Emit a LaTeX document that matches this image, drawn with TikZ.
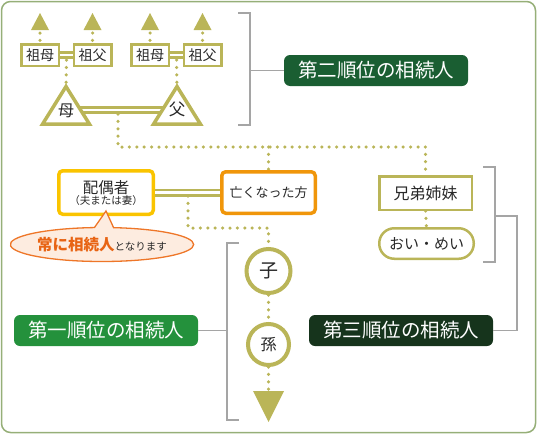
\documentclass[tikz,border=0pt]{standalone}
\usepackage{fontspec}
\setmainfont{Noto Sans CJK JP}
\usetikzlibrary{shapes.callouts,shapes.geometric}
\definecolor{oliv}{RGB}{186,181,88}
\definecolor{framec}{RGB}{150,175,120}
\definecolor{brgray}{RGB}{165,165,165}
\definecolor{labA}{RGB}{36,145,60}
\definecolor{labB}{RGB}{26,94,50}
\definecolor{labC}{RGB}{22,52,28}
\definecolor{spouseb}{RGB}{250,196,0}
\definecolor{deadb}{RGB}{240,150,10}
\definecolor{callb}{RGB}{238,118,40}
\definecolor{callf}{RGB}{253,236,224}
\definecolor{callt}{RGB}{232,100,20}
\definecolor{txt}{RGB}{40,40,40}
\pgfdeclarelayer{bg}
\pgfsetlayers{bg,main}
\begin{document}
\begin{tikzpicture}[x=1pt,y=-1pt,
  dots/.style={draw=oliv, line width=3.5pt, line cap=round, dash pattern=on 0pt off 7.4pt},
  dbl/.style={draw=oliv, double=white, double distance=2.8pt, line width=2.6pt},
  brk/.style={draw=brgray, line width=1.4pt},
  gbox/.style={draw=oliv, line width=2.5pt, fill=white, minimum width=37.5pt, minimum height=21.5pt, inner sep=0pt, font=\fontsize{14}{14}\selectfont, text=txt},
  lab/.style={rounded corners=6pt, minimum width=184pt, minimum height=31pt, inner sep=0pt, text=white, font=\fontsize{19.5}{20}\selectfont},
  plain/.style={inner sep=0pt, text=txt},
  bigtri/.style={draw=oliv, line width=3.5pt, fill=white, line join=miter},
  circ/.style={circle, draw=oliv, line width=4pt, fill=white, inner sep=0pt, text=txt}
]
\useasboundingbox (0,0) rectangle (537,434);
\draw[framec, line width=1.5pt, rounded corners=9pt] (1.5,1.5) rectangle (535.5,432.5);

% grandparents
\node[gbox] (gm1) at (40,55) {祖母};
\node[gbox] (gf1) at (92.5,55) {祖父};
\node[gbox] (gm2) at (150,55) {祖母};
\node[gbox] (gf2) at (202.5,55) {祖父};
\foreach \n/\x in {a/40,b/92.5,c/150,d/202.5}{
  \fill[oliv] (\x,13) -- (\x-9,30) -- (\x+9,30) -- cycle;
  \coordinate (up\n) at (\x,33);
}
\begin{pgfonlayer}{bg}
\draw[dots] (upa) -- (gm1.north);
\draw[dots] (upb) -- (gf1.north);
\draw[dots] (upc) -- (gm2.north);
\draw[dots] (upd) -- (gf2.north);
\end{pgfonlayer}
\draw[dbl] (gm1.east) -- (gf1.west);
\draw[dbl] (gm2.east) -- (gf2.west);

% parents
\coordinate (pm1) at (66.5,60);
\coordinate (pm2) at (176.5,60);
\coordinate (mapex) at (66,86.5);
\coordinate (fapex) at (177,86.5);
\begin{pgfonlayer}{bg}
\draw[dots] (pm1) -- (mapex);
\draw[dots] (pm2) -- (fapex);
\draw[dbl] (74,110) -- (169,110);
\end{pgfonlayer}
\draw[bigtri] (mapex) -- (42.5,124.2) -- (89.5,124.2) -- cycle;
\draw[bigtri] (fapex) -- (153.5,124.2) -- (200.5,124.2) -- cycle;
\node[plain, font=\fontsize{16}{16}\selectfont] (mo) at (66,110.5) {母};
\node[plain, font=\fontsize{16.5}{16}\selectfont] (fa) at (177,109) {父};

% second rank label + bracket
\node[lab, fill=labB] (lab2) at (376,70.5) {第二順位の相続人};
\draw[brk] (238,13) -- (250,13) -- (250,125) -- (238,125);
\draw[brk] (250,70.5) -- (lab2.west);

% spouse and deceased
\node[draw=spouseb, line width=3.5pt, fill=white, rounded corners=4pt, minimum width=94.5pt, minimum height=43.5pt, inner sep=0pt, align=center, text=txt] (sp) at (106,192.5)
  {{\fontsize{15.5}{16}\selectfont 配偶者}\\[-1pt]{\fontsize{10.5}{11}\selectfont （夫または妻）}};
\node[draw=deadb, line width=3.5pt, fill=white, rounded corners=4pt, minimum width=93.5pt, minimum height=41.5pt, inner sep=0pt, text=txt, font=\fontsize{13}{13}\selectfont] (dec) at (268.5,192.5) {亡くなった方};
\draw[dbl] (sp.east) -- (dec.west);

% siblings
\node[draw=oliv, line width=2.5pt, fill=white, minimum width=92.5pt, minimum height=33.5pt, inner sep=0pt, text=txt, font=\fontsize{16}{16}\selectfont] (sib) at (425.5,193) {兄弟姉妹};
\node[draw=oliv, line width=2.5pt, fill=white, rounded corners=15pt, minimum width=94.5pt, minimum height=30.5pt, inner sep=0pt, text=txt, font=\fontsize{15}{15}\selectfont] (nep) at (426.5,243.5) {おい・めい};

% children
\node[circ, minimum size=44pt, font=\fontsize{19}{19}\selectfont] (ko) at (268.5,271) {子};
\node[circ, minimum size=41pt, font=\fontsize{16}{16}\selectfont] (mago) at (268.5,344.5) {孫};
\coordinate (dt) at (268.5,392);
\fill[oliv] (253,391) -- (284,391) -- (268.5,422) -- cycle;

\coordinate (pmid) at (118,114);
\coordinate (smid) at (188,196);
\begin{pgfonlayer}{bg}
\draw[dots] (pmid) -- (118,147) -- (425.5,147) -- (sib.north);
\draw[dots] (268.5,147) -- (dec.north);
\draw[dots] (smid) -- (188,228) -- (268.5,228) -- (ko.north);
\draw[dots] (sib.south) -- (nep.north);
\draw[dots] (ko.south) -- (mago.north);
\draw[dots] (mago.south) -- (dt);
\end{pgfonlayer}

% callout
\node[ellipse callout, draw=callb, fill=callf, line width=1.3pt, minimum width=140pt, minimum height=34pt, inner sep=0pt, callout pointer arc=12, callout absolute pointer={(106,211)}] (call) at (102,244.5)
  {{\color{callt}\fontsize{15.5}{16}\selectfont\bfseries 常に相続人}{\color{txt}\fontsize{10.5}{11}\selectfont となります}};

% first / third rank labels + brackets
\node[lab, fill=labA] (lab1) at (106,330.5) {第一順位の相続人};
\node[lab, fill=labC] (lab3) at (401,330.5) {第三順位の相続人};
\draw[brk] (239,243) -- (227,243) -- (227,420) -- (239,420);
\draw[brk] (227,330.5) -- (lab1.east);
\draw[brk] (483,167) -- (495,167) -- (495,262) -- (483,262);
\draw[brk] (495,216) -- (517,216) -- (517,330.5) -- (lab3.east);
\end{tikzpicture}
\end{document}
